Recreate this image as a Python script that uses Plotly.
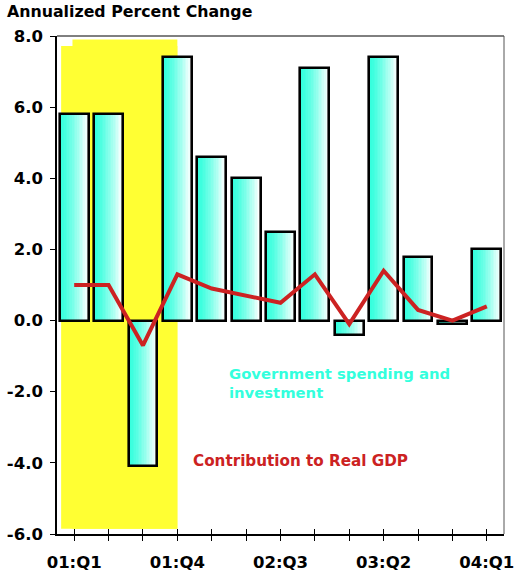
import plotly.graph_objects as go

quarters = ["01:Q1", "01:Q2", "01:Q3", "01:Q4", "02:Q1", "02:Q2", "02:Q3",
            "02:Q4", "03:Q1", "03:Q2", "03:Q3", "03:Q4", "04:Q1"]
gov_spending = [5.8, 5.8, -4.1, 7.4, 4.6, 4.0, 2.5, 7.1, -0.4, 7.4, 1.8, -0.1, 2.0]
contribution_gdp = [1.0, 1.0, -0.7, 1.3, 0.9, 0.7, 0.5, 1.3, -0.1, 1.4, 0.3, 0.0, 0.4]
labeled_quarters = ["01:Q1", "01:Q4", "02:Q3", "03:Q2", "04:Q1"]
y_ticks = [-6, -4, -2, 0, 2, 4, 6, 8]
recession = ("01:Q1", "01:Q4")

x_idx = list(range(len(quarters)))
tick_text = ["<b>%s</b>" % q if q in labeled_quarters else "" for q in quarters]

FONT = "DejaVu Sans, sans-serif"
CYAN = (51, 255, 221)
RED = "#cc2222"
YELLOW = "#ffff33"

fig = go.Figure()

# recession shading
r0 = quarters.index(recession[0])
r1 = quarters.index(recession[1])
fig.add_shape(type="rect", xref="x", yref="y", x0=r0 - 0.38, x1=r1, y0=-5.85, y1=7.72,
              fillcolor=YELLOW, line_width=0, layer="below")
fig.add_shape(type="rect", xref="x", yref="y", x0=r0 - 0.05, x1=r1, y0=-5.85, y1=7.9,
              fillcolor=YELLOW, line_width=0, layer="below")

# gradient bars built from vertical strips
bar_w = 0.84
n_strips = 18
for k in range(n_strips):
    t = k / (n_strips - 1)
    f = min(1.0, t ** 1.4)
    col = tuple(int(round(c + (255 - c) * f)) for c in CYAN)
    fig.add_trace(go.Bar(
        x=x_idx, y=gov_spending,
        width=bar_w / n_strips + 0.004,
        offset=-bar_w / 2 + k * bar_w / n_strips,
        marker=dict(color="rgb(%d,%d,%d)" % col, line_width=0),
        showlegend=False, hoverinfo="skip"))
fig.add_trace(go.Bar(
    x=x_idx, y=gov_spending, width=bar_w,
    marker=dict(color="rgba(0,0,0,0)", line=dict(color="black", width=2.6)),
    showlegend=False, name="Government spending and investment"))

fig.add_trace(go.Scatter(
    x=x_idx, y=contribution_gdp, mode="lines",
    line=dict(color=RED, width=4), showlegend=False,
    name="Contribution to Real GDP"))

# ticks crossing the x axis
fig.add_trace(go.Scatter(x=[0], y=[0], xaxis="x2", mode="none", showlegend=False, hoverinfo="skip"))

fig.update_layout(
    width=516, height=575,
    margin=dict(l=57, r=12, t=36, b=41),
    paper_bgcolor="white", plot_bgcolor="white",
    barmode="overlay", bargap=0,
    font=dict(family=FONT, color="black"),
    xaxis=dict(range=[-0.5, 12.5], tickvals=x_idx, ticktext=tick_text,
               ticks="outside", ticklen=5, tickwidth=1, tickcolor="black",
               ticklabelstandoff=7, automargin=False,
               showline=True, linecolor="black", linewidth=1.5, mirror=False,
               showgrid=False, zeroline=False,
               tickfont=dict(size=16.5, family=FONT, color="black")),
    xaxis2=dict(range=[-0.5, 12.5], overlaying="x", side="bottom", tickvals=x_idx,
                ticktext=[""] * len(x_idx), ticks="inside", ticklen=5, tickwidth=1,
                automargin=False,
                tickcolor="black", showline=False, showgrid=False, zeroline=False),
    yaxis=dict(range=[-6, 8], tickvals=y_ticks,
               ticktext=["<b>%.1f</b>" % v for v in y_ticks],
               ticks="outside", ticklen=5, tickwidth=1, tickcolor="black",
               ticklabelstandoff=4, automargin=False,
               showline=True, linecolor="black", linewidth=1.5,
               showgrid=False, zeroline=False,
               tickfont=dict(size=16.5, family=FONT, color="black")),
    shapes=list(fig.layout.shapes) + [
        dict(type="line", xref="paper", yref="paper", x0=0, x1=1, y0=1, y1=1,
             line=dict(color="black", width=1)),
        dict(type="line", xref="paper", yref="paper", x0=1, x1=1, y0=0, y1=1,
             line=dict(color="#555555", width=1)),
    ],
)

fig.add_annotation(text="<b>Annualized Percent Change</b>", xref="paper", yref="paper",
                   x=-52 / 447, y=1, yshift=36, xanchor="left", yanchor="top",
                   showarrow=False, font=dict(size=15.8, family=FONT, color="black"))
fig.add_annotation(text="<b>Government spending and<br>investment</b>", xref="x", yref="y",
                   x=4.45, y=-1.2, xanchor="left", yanchor="top", align="left",
                   showarrow=False, font=dict(size=14.8, family=FONT, color="#33ffdd"))
fig.add_annotation(text="<b>Contribution to Real GDP</b>", xref="x", yref="y",
                   x=3.4, y=-3.65, xanchor="left", yanchor="top", align="left",
                   showarrow=False, font=dict(size=15.2, family=FONT, color=RED))

fig.write_html("out.html")
